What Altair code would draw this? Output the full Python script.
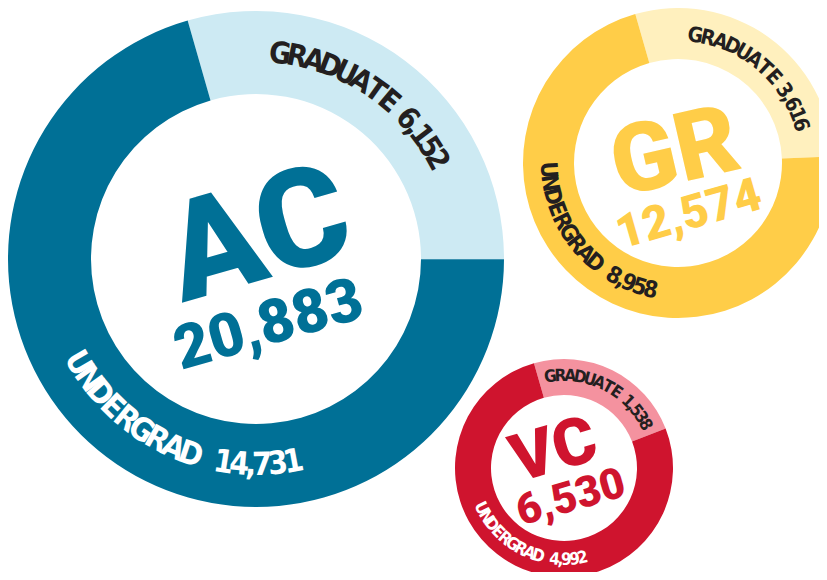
import math
import altair as alt
import pandas as pd

# ---------------- data ----------------
campuses = ["AC", "GR", "VC"]
totals = [20883, 12574, 6530]
graduate = [6152, 3616, 1538]
undergrad = [14731, 8958, 4992]
segments = ["Graduate", "Undergrad"]

# ---------------- layout / style ----------------
W, H = 811, 564
START = 2 * math.pi - math.radians(16)
LABEL_FONT = "Liberation Sans Narrow, DejaVu Sans Condensed, Arial Narrow, sans-serif"
BIG_FONT = "Roboto, Inter, sans-serif"

style = {
    "AC": dict(cx=248, cy=251, outer=248, inner=165,
               name_xy=(251, 230), name_size=138, name_angle=344,
               tot_xy=(261, 318), tot_size=61, tot_angle=344,
               colors=["#CDEAF3", "#007096"], text="#007096",
               labels={"Graduate": dict(a0=6.7, a1=61.3, r=206, size=30, sp=0.55, color="#231F20"),
                       "Undergrad": dict(a0=239.6, a1=169.5, r=206, size=32, sp=0.9, color="#FFFFFF")}),
    "GR": dict(cx=670, cy=155, outer=155, inner=104,
               name_xy=(667, 146), name_size=96, name_angle=347,
               tot_xy=(681, 207), tot_size=47, tot_angle=344,
               colors=["#FFF0BE", "#FFCD48"], text="#FFCD48",
               labels={"Graduate": dict(a0=7.7, a1=72.7, r=128, size=21, sp=0.4, color="#231F20"),
                       "Undergrad": dict(a0=266.9, a1=192.2, r=130, size=23, sp=0.8, color="#231F20")}),
    "VC": dict(cx=556, cy=460, outer=109, inner=73,
               name_xy=(546, 443), name_size=66, name_angle=344,
               tot_xy=(563, 490), tot_size=43, tot_angle=344,
               colors=["#F4929F", "#CF142E"], text="#CF142E",
               labels={"Graduate": dict(a0=351.6, a1=422.0, r=92, size=17, sp=0.55, color="#231F20"),
                       "Undergrad": dict(a0=244.0, a1=168.3, r=92, size=17, sp=0.8, color="#FFFFFF")}),
}

# ---------------- tables built from the data ----------------
rows = []
for c, g, u in zip(campuses, graduate, undergrad):
    for i, (seg, v) in enumerate(zip(segments, [g, u])):
        rows.append(dict(campus=c, segment=seg, value=v, order=i, key=f"{c}|{seg}"))
arc_df = pd.DataFrame(rows)

tot_df = pd.DataFrame(dict(campus=campuses, total=totals))


def char_weight(ch, sp):
    if ch == " ":
        return sp
    if ch == ",":
        return 0.4
    if ch.isdigit():
        return 0.85
    if ch == "M":
        return 1.2
    return 1.0


char_rows = []
for r in rows:
    lab = style[r["campus"]]["labels"][r["segment"]]
    text = f"{r['segment'].upper()} {r['value']:,}"
    ws = [char_weight(ch, lab["sp"]) for ch in text]
    centers = []
    acc = 0.0
    for w in ws:
        centers.append(acc + w / 2)
        acc += w
    s0, s1 = centers[0], centers[-1]
    for ch, s in zip(text, centers):
        if ch == " ":
            continue
        a = lab["a0"] + (s - s0) / (s1 - s0) * (lab["a1"] - lab["a0"])
        rot = a if lab["a1"] > lab["a0"] else a - 180
        char_rows.append(dict(campus=r["campus"], segment=r["segment"], ch=ch,
                              theta=math.radians(a), rot=rot % 360))
char_df = pd.DataFrame(char_rows)

keys = list(arc_df["key"])
key_colors = [style[k.split("|")[0]]["colors"][segments.index(k.split("|")[1])] for k in keys]

layers = []
for c in campuses:
    st = style[c]
    layers.append(
        alt.Chart(arc_df).transform_filter(alt.datum.campus == c)
        .mark_arc(innerRadius=st["inner"], outerRadius=st["outer"])
        .encode(
            x=alt.value(st["cx"]), y=alt.value(st["cy"]),
            theta=alt.Theta("value:Q", stack="normalize",
                            scale=alt.Scale(domain=[0, 1], range=[START, START + 2 * math.pi])),
            order=alt.Order("order:Q"),
            color=alt.Color("key:N", scale=alt.Scale(domain=keys, range=key_colors), legend=None),
        )
    )

for c in campuses:
    st = style[c]
    for seg in segments:
        lab = st["labels"][seg]
        layers.append(
            alt.Chart(char_df)
            .transform_filter((alt.datum.campus == c) & (alt.datum.segment == seg))
            .mark_text(font=LABEL_FONT, fontSize=lab["size"], fontWeight="bold",
                       color=lab["color"], align="center", baseline="middle",
                       radius=lab["r"])
            .encode(
                x=alt.value(st["cx"]), y=alt.value(st["cy"]),
                theta=alt.Theta("theta:Q", scale=None, stack=False),
                angle=alt.Angle("rot:Q", scale=None),
                text="ch:N",
            )
        )
    layers.append(
        alt.Chart(tot_df).transform_filter(alt.datum.campus == c)
        .mark_text(font=BIG_FONT, fontSize=st["name_size"], fontWeight=900,
                   color=st["text"], align="center", baseline="middle",
                   angle=st["name_angle"])
        .encode(x=alt.value(st["name_xy"][0]), y=alt.value(st["name_xy"][1]),
                text="campus:N")
    )
    layers.append(
        alt.Chart(tot_df).transform_filter(alt.datum.campus == c)
        .mark_text(font=BIG_FONT, fontSize=st["tot_size"], fontWeight=900,
                   color=st["text"], align="center", baseline="middle",
                   angle=st["tot_angle"])
        .encode(x=alt.value(st["tot_xy"][0]), y=alt.value(st["tot_xy"][1]),
                text=alt.Text("total:Q", format=","))
    )

chart = (
    alt.layer(*layers)
    .properties(width=W, height=H, autosize="none", padding=0, background="white")
    .configure_view(stroke=None)
)

chart.save("out.html", embed_options={"renderer": "svg", "actions": False})
